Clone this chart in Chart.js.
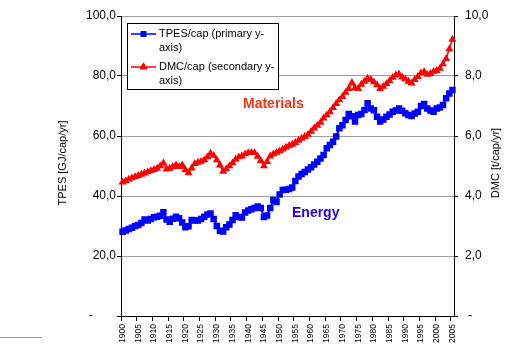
<!DOCTYPE html>
<html>
<head>
<meta charset="utf-8">
<script src="https://cdn.jsdelivr.net/npm/chart.js@4.4.1/dist/chart.umd.min.js"></script>
<style>
  html, body { margin: 0; padding: 0; background: #fff; }
  #wrap { width: 505px; height: 358px; }
</style>
</head>
<body>
<div id="wrap"><canvas id="my-chart" width="505" height="358"></canvas></div>
<script>
// years 1900..2005, one point per year
const years = Array.from({ length: 106 }, (_, i) => 1900 + i);
const yearLabels = [1900, 1905, 1910, 1915, 1920, 1925, 1930, 1935, 1940, 1945, 1950,
  1955, 1960, 1965, 1970, 1975, 1980, 1985, 1990, 1995, 2000, 2005];

// TPES per capita, GJ/cap/yr (primary axis)
const tpes = [
  28.1, 28.5, 29.0, 29.4, 30.0, 30.3, 31.0, 32.2, 31.8, 32.3,
  32.9, 33.1, 33.4, 34.6, 32.2, 31.4, 32.4, 33.1, 32.6, 31.2,
  29.6, 29.9, 32.0, 31.8, 31.8, 32.3, 33.1, 33.8, 34.2, 32.3,
  30.0, 28.4, 28.2, 29.6, 30.5, 32.0, 33.6, 33.0, 32.8, 34.5,
  35.2, 35.6, 36.0, 36.5, 36.0, 33.0, 33.5, 36.0, 38.7, 38.0,
  40.5, 42.0, 42.1, 42.3, 42.8, 45.0, 46.5, 47.3, 48.0, 48.8,
  49.6, 50.5, 51.4, 52.5, 53.7, 55.9, 57.0, 58.1, 59.8, 62.6,
  63.6, 65.3, 67.3, 66.6, 64.8, 67.0, 67.3, 68.7, 70.9, 69.2,
  68.6, 66.4, 64.8, 65.5, 66.4, 67.2, 68.1, 68.5, 69.2, 68.4,
  67.6, 67.0, 66.7, 67.5, 68.1, 70.0, 70.7, 69.2, 68.5, 68.1,
  69.2, 69.5, 70.3, 72.6, 74.2, 75.3
];

// DMC per capita, t/cap/yr (secondary axis)
const dmc = [
  4.46, 4.50, 4.56, 4.60, 4.64, 4.68, 4.72, 4.76, 4.80, 4.84,
  4.88, 4.92, 5.00, 5.10, 4.89, 4.92, 4.98, 5.03, 4.98, 5.03,
  4.87, 4.77, 4.93, 5.08, 5.12, 5.15, 5.20, 5.30, 5.42, 5.35,
  5.20, 5.03, 4.82, 4.90, 5.00, 5.10, 5.22, 5.30, 5.33, 5.40,
  5.44, 5.45, 5.44, 5.32, 5.18, 5.00, 5.14, 5.33, 5.40, 5.45,
  5.50, 5.56, 5.62, 5.68, 5.72, 5.78, 5.85, 5.92, 5.98, 6.05,
  6.15, 6.26, 6.35, 6.45, 6.59, 6.70, 6.80, 6.94, 7.08, 7.20,
  7.31, 7.45, 7.58, 7.78, 7.60, 7.58, 7.72, 7.82, 7.92, 7.88,
  7.80, 7.70, 7.58, 7.65, 7.74, 7.84, 7.95, 8.03, 8.06, 7.96,
  7.90, 7.82, 7.76, 7.88, 7.98, 8.10, 8.14, 8.05, 8.08, 8.15,
  8.18, 8.25, 8.40, 8.58, 8.90, 9.22
];

const BLUE = '#0000ff';
const RED = '#ff0000';
const FONT = '"Liberation Sans", Arial, sans-serif';

const commaFmt = (v, d) => v.toFixed(d).replace('.', ',');

// legend, axis titles and labels drawn on top
const extras = {
  id: 'extras',
  beforeDraw(chart) {
    const ctx = chart.ctx;
    ctx.save();
    ctx.fillStyle = '#fff';
    ctx.fillRect(0, 0, chart.width, chart.height);
    ctx.restore();
  },
  afterDraw(chart) {
    const ctx = chart.ctx;
    const a = chart.chartArea;
    const mid = (a.top + a.bottom) / 2;
    ctx.save();

    // axis titles
    ctx.fillStyle = '#000';
    ctx.font = '11px ' + FONT;
    ctx.textAlign = 'center';
    ctx.textBaseline = 'middle';
    ctx.save();
    ctx.translate(63, mid - 3);
    ctx.rotate(-Math.PI / 2);
    ctx.fillText('TPES [GJ/cap/yr]', 0, 0);
    ctx.restore();
    ctx.save();
    ctx.translate(496, mid - 3);
    ctx.rotate(-Math.PI / 2);
    ctx.fillText('DMC [t/cap/yr]', 0, 0);
    ctx.restore();

    // legend box
    ctx.fillStyle = '#fff';
    ctx.fillRect(127, 23, 151, 66);
    ctx.strokeStyle = '#000';
    ctx.lineWidth = 1;
    ctx.strokeRect(127.5, 23.5, 151, 66);

    const entries = [
      { y: 34, color: BLUE, style: 'rect', lines: ['TPES/cap (primary y-', 'axis)'] },
      { y: 67, color: RED, style: 'triangle', lines: ['DMC/cap (secondary y-', 'axis)'] }
    ];
    entries.forEach(e => {
      ctx.strokeStyle = e.color;
      ctx.lineWidth = 1.5;
      ctx.beginPath();
      ctx.moveTo(131, e.y);
      ctx.lineTo(156, e.y);
      ctx.stroke();
      ctx.fillStyle = e.color;
      Chart.helpers.drawPoint(ctx, {
        pointStyle: e.style, radius: e.style === 'rect' ? 4 : 4.5,
        borderWidth: 0, rotation: 0
      }, 143.5, e.y);
      ctx.fill();
      ctx.fillStyle = '#000';
      ctx.font = '11px ' + FONT;
      ctx.textAlign = 'left';
      ctx.textBaseline = 'middle';
      e.lines.forEach((t, i) => ctx.fillText(t, 159, e.y + i * 14));
    });

    // series annotations
    ctx.font = 'bold 14px ' + FONT;
    ctx.textAlign = 'left';
    ctx.textBaseline = 'alphabetic';
    ctx.fillStyle = '#ff3311';
    ctx.fillText('Materials', 243, 108);
    ctx.fillStyle = '#2200ee';
    ctx.fillText('Energy', 292, 217);

    // stray rule at bottom-left
    ctx.strokeStyle = '#999';
    ctx.lineWidth = 1;
    ctx.beginPath();
    ctx.moveTo(0, 337.5);
    ctx.lineTo(42, 337.5);
    ctx.stroke();

    ctx.restore();
  }
};

new Chart(document.getElementById('my-chart'), {
  type: 'line',
  data: {
    labels: years,
    datasets: [{
      label: 'TPES/cap (primary y-axis)',
      data: tpes,
      yAxisID: 'y',
      borderColor: BLUE,
      backgroundColor: BLUE,
      borderWidth: 2,
      pointStyle: 'rect',
      pointRadius: 4.6,
      pointBorderWidth: 0,
      tension: 0,
      fill: false
    }, {
      label: 'DMC/cap (secondary y-axis)',
      data: dmc,
      yAxisID: 'y1',
      borderColor: RED,
      backgroundColor: RED,
      borderWidth: 1.5,
      pointStyle: 'triangle',
      pointRadius: 4.6,
      pointBorderWidth: 0,
      tension: 0,
      fill: false
    }]
  },
  options: {
    responsive: false,
    animation: false,
    devicePixelRatio: 1,
    layout: { padding: { top: 16, left: 0, right: 0, bottom: 0 } },
    plugins: {
      legend: { display: false },
      tooltip: { enabled: false }
    },
    scales: {
      x: {
        type: 'category',
        offset: true,
        afterFit: s => { s.height = 42; },
        border: { display: true, color: '#000', width: 1 },
        grid: {
          offset: true,
          drawOnChartArea: false,
          drawTicks: true,
          tickLength: 5,
          color: c => (c.index % 5 === 0 ? '#000' : 'rgba(0,0,0,0)')
        },
        ticks: {
          autoSkip: false,
          minRotation: 90,
          maxRotation: 90,
          padding: 3,
          color: '#000',
          font: { family: FONT, size: 8.5 },
          callback: function (v, i) {
            const yr = years[i];
            return yearLabels.includes(yr) ? String(yr) : '';
          }
        }
      },
      y: {
        position: 'left',
        min: 0,
        max: 100,
        afterFit: s => { s.width = 121; },
        border: { display: true, color: '#000', width: 1 },
        grid: {
          color: '#a0a0a0',
          tickColor: '#000',
          tickLength: 4,
          lineWidth: 1
        },
        ticks: {
          stepSize: 20,
          padding: 1,
          color: '#000',
          font: { family: FONT, size: 12 },
          callback: v => (v === 0 ? '-       ' : commaFmt(v, 1))
        }
      },
      y1: {
        position: 'right',
        min: 0,
        max: 10,
        afterFit: s => { s.width = 51; },
        border: { display: true, color: '#000', width: 1 },
        grid: {
          drawOnChartArea: false,
          color: '#000',
          tickLength: 4
        },
        ticks: {
          stepSize: 2,
          padding: 7,
          color: '#000',
          font: { family: FONT, size: 12 },
          callback: v => (v === 0 ? ' -' : commaFmt(v, 1))
        }
      }
    }
  },
  plugins: [extras]
});
</script>
</body>
</html>
